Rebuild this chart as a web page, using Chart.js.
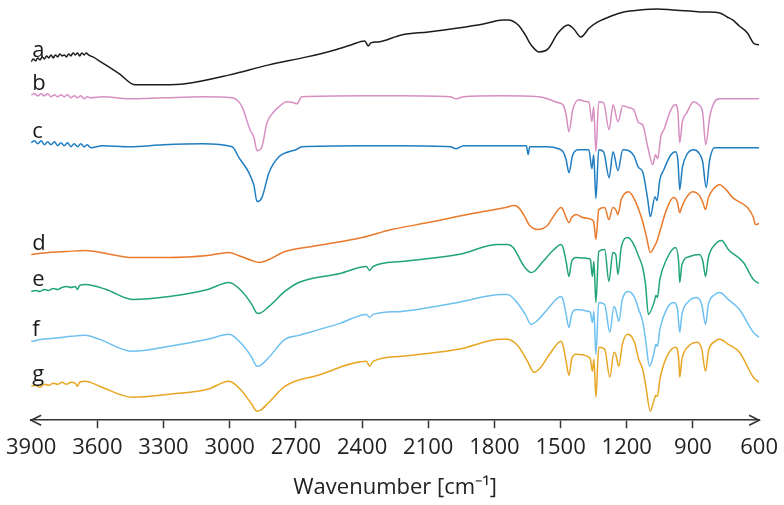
<!DOCTYPE html>
<html>
<head>
<meta charset="utf-8">
<script src="https://cdn.jsdelivr.net/npm/chart.js@4/dist/chart.umd.min.js"></script>
<style>
  html, body { margin: 0; padding: 0; background: #fff; }
  #wrap { width: 784px; height: 505px; }
</style>
</head>
<body>
<div id="wrap"><canvas id="ftir" width="784" height="505"></canvas></div>
<script>
// Wavenumber ticks (cm-1)
const tickValues = [3900, 3600, 3300, 3000, 2700, 2400, 2100, 1800, 1500, 1200, 900, 600];
const traceLabels = ['a', 'b', 'c', 'd', 'e', 'f', 'g'];
const traceColors = ['#1c1c1c', '#d78fc2', '#1f7dc2', '#e97a2c', '#22a47a', '#6dc0ef', '#e8a623'];

// Each trace: [wavenumber, offset transmittance (a.u.)]
const traceA = [
  [3900, 359], [3890, 362], [3880, 360], [3870, 363], [3860, 361], [3850, 364], [3840, 362],
  [3830, 365], [3820, 363], [3810, 366], [3800, 363], [3790, 366], [3780, 364], [3770, 367],
  [3760, 365], [3750, 366], [3740, 364], [3730, 367], [3720, 365], [3710, 368], [3700, 366],
  [3690, 368], [3680, 365], [3670, 368], [3660, 366], [3650, 368], [3640, 366], [3620, 364],
  [3577, 358], [3500, 347], [3428, 336], [3300, 336], [3202, 337], [3000, 346],
  [2822, 356], [2650, 364], [2524, 371], [2450, 376], [2388, 380], [2372, 375], [2360, 378],
  [2325, 379], [2221, 386], [2100, 389], [1964, 393], [1850, 397], [1760, 401], [1738, 401],
  [1692, 396], [1660, 386], [1634, 376], [1598, 369], [1557, 372], [1512, 388], [1466, 396],
  [1440, 392], [1408, 384], [1370, 393], [1331, 399], [1270, 405], [1213, 409], [1140, 411],
  [1061, 412], [990, 411], [915, 410], [850, 409], [779, 408], [745, 404], [720, 401],
  [690, 395], [653, 388], [626, 378], [600, 376]
];

const traceB = [
  [3900, 326], [3885, 327], [3870, 325], [3855, 327], [3840, 325], [3825, 327], [3810, 324],
  [3795, 326], [3780, 324], [3765, 326], [3750, 324], [3735, 326], [3720, 323], [3705, 325],
  [3690, 323], [3675, 325], [3660, 322], [3645, 324], [3630, 323],
  [3577, 324], [3455, 322], [3300, 323], [3125, 324], [2989, 323], [2944, 314], [2908, 291],
  [2890, 283], [2876, 270], [2854, 274], [2831, 298], [2800, 309], [2777, 314], [2741, 319],
  [2710, 318], [2696, 317], [2673, 324], [2400, 325], [2221, 325], [2000, 324], [1973, 322],
  [1940, 324], [1769, 325], [1600, 324], [1560, 322], [1510, 318], [1489, 316], [1475, 306],
  [1462, 289], [1445, 311], [1417, 321], [1380, 319], [1372, 319], [1358, 299], [1350, 314],
  [1340, 269], [1327, 319], [1305, 318], [1280, 291], [1262, 316], [1240, 299], [1218, 315],
  [1190, 313], [1168, 311], [1146, 298], [1128, 296], [1105, 274], [1082, 256], [1070, 266],
  [1060, 262], [1045, 285], [1032, 291], [1000, 311], [979, 316], [968, 308], [960, 278],
  [948, 299], [928, 308], [897, 319], [874, 316], [856, 308], [842, 276], [824, 304],
  [802, 319], [780, 322], [700, 322], [600, 322]
];

const traceC = [
  [3900, 278], [3885, 280], [3870, 277], [3855, 280], [3840, 276], [3825, 279], [3810, 276],
  [3795, 279], [3780, 275], [3765, 278], [3750, 275], [3735, 278], [3720, 274], [3705, 277],
  [3690, 274], [3675, 277], [3660, 274], [3645, 276], [3630, 273],
  [3577, 275], [3455, 274], [3300, 276], [3125, 277], [2989, 274],
  [2958, 263], [2913, 248], [2890, 235], [2876, 219], [2854, 223], [2822, 248], [2777, 264],
  [2732, 269], [2700, 271], [2673, 274], [2400, 275], [2221, 275], [2000, 274], [1973, 272],
  [1940, 275], [1700, 275], [1655, 275], [1647, 266], [1640, 274], [1560, 274], [1510, 272],
  [1489, 269], [1475, 261], [1462, 248], [1445, 266], [1417, 271], [1372, 271], [1358, 252],
  [1350, 266], [1340, 222], [1327, 271], [1305, 269], [1280, 243], [1262, 269], [1240, 250],
  [1218, 271], [1190, 270], [1168, 265], [1146, 253], [1128, 249], [1105, 221], [1093, 204],
  [1072, 224], [1063, 220], [1050, 241], [1032, 251], [1000, 266], [979, 269], [968, 260],
  [960, 231], [948, 253], [928, 266], [897, 271], [874, 268], [856, 259], [840, 233],
  [824, 261], [802, 273], [700, 273], [600, 273]
];

const traceD = [
  [3900, 166], [3820, 168], [3740, 169], [3654, 170], [3560, 167], [3441, 163], [3274, 163],
  [3100, 165], [3003, 168], [2960, 165], [2900, 160], [2867, 158], [2845, 159], [2822, 161],
  [2750, 169], [2600, 175], [2400, 183], [2266, 191], [2100, 198], [1900, 207], [1750, 213],
  [1711, 215], [1690, 213], [1665, 205], [1640, 195], [1602, 191], [1560, 195], [1530, 205],
  [1498, 213], [1489, 211], [1475, 203], [1462, 198], [1450, 203], [1430, 206], [1400, 203],
  [1372, 202], [1350, 199], [1340, 181], [1327, 211], [1300, 213], [1281, 201], [1263, 213],
  [1250, 211], [1240, 206], [1225, 221], [1191, 229], [1165, 221], [1146, 211], [1128, 199],
  [1110, 183], [1093, 168], [1075, 174], [1064, 179], [1050, 189], [1020, 211], [988, 223],
  [970, 218], [960, 208], [950, 214], [930, 223], [902, 229], [870, 225], [855, 218],
  [843, 211], [830, 223], [810, 231], [779, 236], [750, 231], [720, 223], [653, 213],
  [626, 203], [617, 196], [600, 197]
];

const traceE = [
  [3900, 129], [3880, 130], [3860, 129], [3840, 131], [3820, 130], [3800, 132], [3780, 131],
  [3760, 133], [3740, 134], [3720, 133], [3700, 134], [3690, 131], [3680, 135], [3654, 136],
  [3560, 131], [3441, 121], [3274, 124], [3100, 131], [3003, 138], [2944, 129], [2900, 116],
  [2880, 108], [2867, 107], [2822, 114], [2750, 129], [2687, 138], [2500, 147], [2380, 154],
  [2366, 150], [2350, 154], [2221, 159], [1964, 166], [1783, 176], [1740, 176], [1715, 173],
  [1665, 154], [1634, 148], [1620, 149], [1580, 159], [1530, 171], [1498, 176], [1489, 173],
  [1475, 159], [1462, 144], [1450, 159], [1430, 163], [1376, 162], [1365, 161], [1356, 144],
  [1349, 159], [1340, 118], [1327, 169], [1300, 171], [1281, 139], [1263, 168], [1250, 166],
  [1240, 146], [1225, 173], [1195, 183], [1168, 176], [1146, 164], [1128, 153], [1115, 136],
  [1102, 106], [1075, 119], [1068, 125], [1061, 123], [1050, 141], [1020, 161], [979, 173],
  [965, 159], [960, 138], [950, 156], [915, 164], [870, 166], [855, 159], [843, 144],
  [830, 163], [800, 176], [770, 180], [740, 171], [671, 158], [626, 141], [600, 137]
];

const traceF = [
  [3900, 79], [3850, 81], [3800, 82], [3720, 84], [3654, 85], [3590, 81], [3441, 69],
  [3274, 74], [3100, 81], [3003, 86], [2944, 76], [2900, 63], [2876, 54], [2860, 55],
  [2822, 63], [2750, 81], [2687, 85], [2500, 97], [2380, 106], [2366, 103], [2350, 106],
  [2221, 109], [1964, 118], [1769, 126], [1740, 126], [1701, 119], [1660, 106], [1634, 96],
  [1600, 101], [1560, 111], [1498, 124], [1489, 121], [1475, 106], [1462, 93], [1450, 106],
  [1430, 111], [1372, 109], [1365, 108], [1356, 98], [1349, 109], [1340, 66], [1327, 118],
  [1300, 116], [1277, 88], [1258, 114], [1250, 111], [1236, 99], [1220, 121], [1191, 129],
  [1165, 123], [1146, 111], [1128, 99], [1115, 81], [1097, 54], [1078, 66], [1068, 76],
  [1061, 74], [1050, 91], [1020, 111], [988, 118], [970, 111], [960, 88], [950, 106],
  [920, 119], [883, 123], [860, 116], [843, 96], [830, 116], [800, 126], [779, 128],
  [740, 121], [689, 111], [626, 88], [600, 83]
];

const traceG = [
  [3900, 34], [3880, 35], [3860, 33], [3840, 36], [3820, 35], [3800, 37], [3780, 36],
  [3760, 38], [3740, 36], [3720, 38], [3700, 37], [3690, 34], [3680, 38], [3654, 39],
  [3590, 34], [3441, 23], [3274, 26], [3100, 31], [3003, 39], [2944, 29],
  [2900, 16], [2876, 9], [2860, 10], [2822, 18], [2750, 34], [2600, 45], [2380, 59],
  [2366, 54], [2350, 59], [2221, 64], [1964, 71], [1769, 81], [1740, 81], [1692, 74],
  [1650, 59], [1620, 48], [1590, 53], [1550, 66], [1498, 79], [1489, 75], [1475, 59],
  [1462, 45], [1450, 61], [1430, 66], [1372, 63], [1365, 61], [1356, 49], [1349, 61],
  [1340, 23], [1327, 73], [1300, 71], [1277, 43], [1258, 68], [1250, 66], [1236, 54],
  [1220, 76], [1195, 86], [1165, 78], [1146, 61], [1128, 51], [1115, 36], [1093, 9],
  [1078, 19], [1068, 25], [1061, 24], [1050, 41], [1020, 63], [979, 73], [965, 63],
  [960, 43], [950, 61], [920, 74], [879, 78], [860, 71], [843, 49], [830, 69],
  [800, 79], [779, 81], [740, 76], [689, 68], [626, 43], [600, 38]
];

const traces = [traceA, traceB, traceC, traceD, traceE, traceF, traceG];

// Writes a..g at the left end of each trace and puts arrowheads on the axis
const spectraDecor = {
  id: 'spectraDecor',
  afterDraw(chart) {
    const ctx = chart.ctx;
    const xs = chart.scales.x;
    const ys = chart.scales.y;
    const area = chart.chartArea;

    ctx.save();
    ctx.font = '22px "Open Sans"';
    ctx.fillStyle = '#1a1a1a';
    ctx.textAlign = 'left';
    ctx.textBaseline = 'alphabetic';
    traces.forEach((t, i) => {
      ctx.fillText(traceLabels[i], xs.getPixelForValue(t[0][0]) + 1, ys.getPixelForValue(t[0][1]) - 5);
    });

    // arrowheads at both ends of the axis line
    const yA = area.bottom;
    ctx.strokeStyle = '#333';
    ctx.lineWidth = 1.6;
    const heads = [[xs.getPixelForValue(3900), 1], [xs.getPixelForValue(600), -1]];
    heads.forEach(([x0, dir]) => {
      ctx.beginPath();
      ctx.moveTo(x0 + dir * 10, yA - 5);
      ctx.lineTo(x0, yA);
      ctx.lineTo(x0 + dir * 10, yA + 5);
      ctx.stroke();
    });
    ctx.restore();
  }
};

new Chart(document.getElementById('ftir').getContext('2d'), {
  type: 'line',
  data: {
    datasets: traces.map((t, i) => ({
      label: traceLabels[i],
      data: t.map(p => ({ x: p[0], y: p[1] })),
      borderColor: traceColors[i],
      borderWidth: 1.5,
      pointRadius: 0,
      fill: false,
      cubicInterpolationMode: 'monotone'
    }))
  },
  options: {
    responsive: false,
    animation: false,
    layout: { padding: { left: 29, right: 24, top: 0, bottom: 0 } },
    plugins: {
      legend: { display: false },
      tooltip: { enabled: false }
    },
    scales: {
      x: {
        type: 'linear',
        reverse: true,
        min: 600,
        max: 3900,
        afterBuildTicks: scale => { scale.ticks = tickValues.map(v => ({ value: v })); },
        ticks: {
          color: '#222',
          font: { family: 'Open Sans', size: 22 },
          padding: 6,
          maxRotation: 0,
          autoSkip: false,
          callback: v => String(v)
        },
        grid: {
          drawOnChartArea: false,
          drawTicks: true,
          tickLength: 8,
          tickWidth: 1.5,
          tickColor: ctx => (ctx.index === 0 || ctx.index === tickValues.length - 1) ? 'rgba(0,0,0,0)' : '#333'
        },
        border: { display: true, color: '#333', width: 1.6 },
        title: {
          display: true,
          text: 'Wavenumber [cm⁻¹]',
          color: '#222',
          font: { family: 'Open Sans', size: 22 },
          padding: { top: 8, bottom: 4 }
        }
      },
      y: {
        display: false,
        min: 0,
        max: 421
      }
    }
  },
  plugins: [spectraDecor]
});
</script>
</body>
</html>
